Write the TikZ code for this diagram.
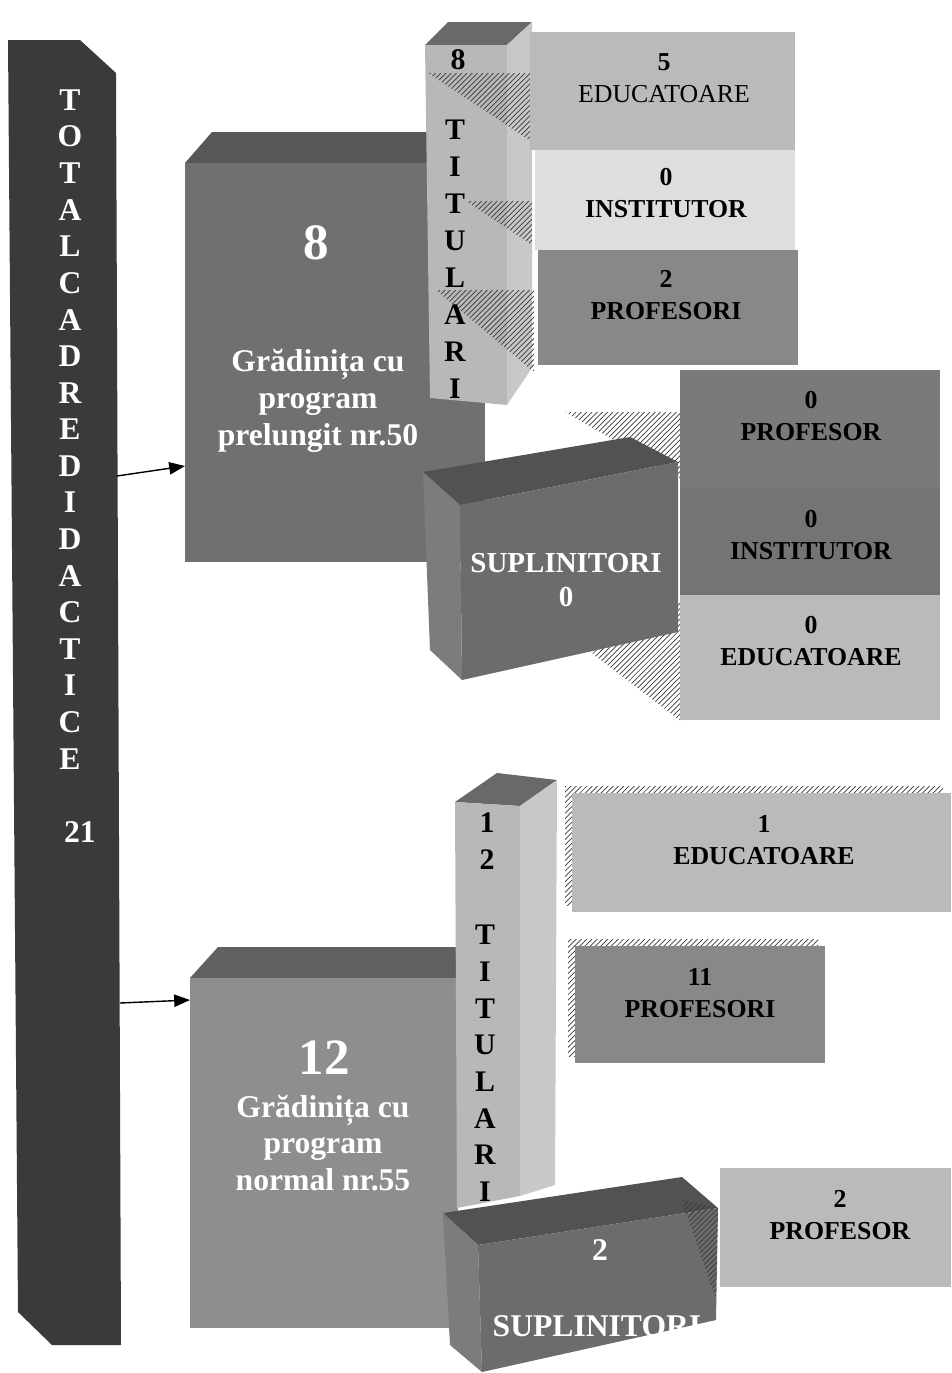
\documentclass[tikz,border=0pt]{standalone}
\usepackage{fontspec}
\setmainfont{Liberation Serif}
\usetikzlibrary{patterns,arrows.meta}

\definecolor{barc}{RGB}{58,58,60}
\definecolor{gfront}{RGB}{112,112,112}
\definecolor{gtop}{RGB}{88,88,88}
\definecolor{gfronttwo}{RGB}{142,142,142}
\definecolor{gtoptwo}{RGB}{96,96,96}
\definecolor{colfront}{RGB}{184,184,184}
\definecolor{colside}{RGB}{200,200,200}
\definecolor{coltop}{RGB}{105,105,105}
\definecolor{lightbox}{RGB}{186,186,186}
\definecolor{paleboxc}{RGB}{222,222,222}
\definecolor{darkbox}{RGB}{136,136,136}
\definecolor{midbox}{RGB}{122,122,122}
\definecolor{supfront}{RGB}{108,108,108}
\definecolor{suptop}{RGB}{82,82,82}
\definecolor{supside}{RGB}{124,124,124}

\tikzset{
  wletter/.style={text=white, font=\fontsize{18}{20}\selectfont\bfseries},
  bletter/.style={text=black, font=\fontsize{17}{19}\selectfont\bfseries},
  lbl/.style={align=center, text=black, font=\fontsize{14.7}{18.5}\selectfont\bfseries},
  wlbl/.style={align=center, text=white, font=\fontsize{18}{21}\selectfont\bfseries},
  wbig/.style={text=white, font=\fontsize{29}{32}\selectfont\bfseries},
  hatch/.style={pattern=north east lines, pattern color=gray!45!black},
  arr/.style={-{Triangle[length=9pt,width=7pt]}, line width=0.8pt},
}

\begin{document}
\begin{tikzpicture}[x=0.02cm,y=-0.02cm]
  \useasboundingbox (0,0) rectangle (951,1373);

  % total bar
  \fill[barc] (8,40) -- (80,40) -- (116,73) -- (121,1345)
    -- (52,1345) -- (18,1312) -- cycle;
  \foreach \ch [count=\i from 0] in {T,O,T,A,L,C,A,D,R,E,D,I,D,A,C,T,I,C,E}
    \node[wletter] (tot\i) at (70,{100+36.6*\i}) {\ch};
  \node[wletter] (tot21) at (80,832) {21};

  % gradinita 50
  \fill[gtop] (185,163) -- (212,132) -- (485,132) -- (485,163) -- cycle;
  \fill[gfront] (185,163) rectangle (485,562);
  \node[wbig] (g50n) at (316,243) {8};
  \node[wlbl] (g50t) at (318,401) {Grădinița cu\\program\\prelungit nr.50};

  % titulari 1
  \fill[coltop] (425,45) -- (448,22) -- (532,22) -- (507,45) -- cycle;
  \fill[colfront] (425,45) -- (507,45) -- (507,405) -- (430,398) -- cycle;
  \fill[colside] (507,45) -- (532,22) -- (532,368) -- (507,405) -- cycle;
  \fill[hatch] (428,73) -- (532,73) -- (532,142) -- cycle;
  \fill[hatch] (466,201) -- (532,201) -- (532,245) -- cycle;
  \fill[hatch] (436,290) -- (534,290) -- (534,372) -- cycle;
  \node[bletter] (tit8) at (458,60) {8};
  \foreach \ch [count=\i from 0] in {T,I,T,U,L,A,R,I}
    \node[bletter] (ta\i) at (455,{130+36.9*\i}) {\ch};

  \fill[lightbox] (530,32) rectangle (795,150);
  \fill[paleboxc] (535,150) rectangle (795,250);
  \fill[darkbox] (538,250) rectangle (798,365);
  \node[lbl] (edu1) at (664,78) {5\\\mdseries EDUCATOARE};
  \node[lbl] (ins1) at (666,193) {0\\INSTITUTOR};
  \node[lbl] (pro1) at (666,295) {2\\PROFESORI};

  % suplinitori 1
  \fill[hatch] (565,412) -- (680,412) -- (680,478) -- cycle;
  \fill[hatch] (585,648) -- (682,600) -- (682,722) -- cycle;
  \fill[suptop] (423,472) -- (630,437) -- (678,462) -- (460,505) -- cycle;
  \fill[supside] (423,472) -- (460,505) -- (462,680) -- (430,650) -- cycle;
  \fill[supfront] (460,505) -- (678,462) -- (678,632) -- (462,680) -- cycle;
  \node[wlbl, font=\fontsize{16.5}{19}\selectfont\bfseries] (sup1) at (566,580)
    {SUPLINITORI\\0};

  \fill[midbox] (680,370) rectangle (940,488);
  \fill[midbox!95!black] (680,488) rectangle (940,595);
  \fill[lightbox] (680,595) rectangle (940,720);
  \node[lbl] (pro2) at (811,416) {0\\PROFESOR};
  \node[lbl] (ins2) at (811,535) {0\\INSTITUTOR};
  \node[lbl] (edu2) at (811,641) {0\\EDUCATOARE};

  % gradinita 55
  \fill[gtoptwo] (190,978) -- (218,947) -- (458,947) -- (458,978) -- cycle;
  \fill[gfronttwo] (190,978) rectangle (458,1328);
  \node[wbig] (g55n) at (324,1058) {12};
  \node[wlbl] (g55t) at (323,1143) {Grădinița cu\\program\\normal nr.55};

  % titulari 2
  \fill[coltop] (455,802) -- (497,773) -- (557,780) -- (520,806) -- cycle;
  \fill[colfront] (455,802) -- (520,806) -- (520,1196) -- (457,1208) -- cycle;
  \fill[colside] (520,806) -- (557,780) -- (555,1185) -- (520,1196) -- cycle;
  \node[bletter] (tb1) at (487,823) {1};
  \node[bletter] (tb2) at (487,860) {2};
  \foreach \ch [count=\i from 0] in {T,I,T,U,L,A,R,I}
    \node[bletter] (tb\ch\i) at (485,{935+36.7*\i}) {\ch};

  \fill[hatch] (565,786) rectangle (943,905);
  \fill[lightbox] (572,793) rectangle (951,912);
  \node[lbl] (edu3) at (764,840) {1\\EDUCATOARE};
  \fill[hatch] (568,939) rectangle (818,1056);
  \fill[darkbox] (575,946) rectangle (825,1063);
  \node[lbl] (pro3) at (700,993) {11\\PROFESORI};

  % suplinitori 2
  \fill[suptop] (443,1213) -- (682,1177) -- (718,1208) -- (478,1245) -- cycle;
  \fill[supside] (443,1213) -- (478,1245) -- (482,1372) -- (450,1345) -- cycle;
  \fill[supfront] (478,1245) -- (718,1208) -- (716,1320) -- (482,1372) -- cycle;
  \fill[hatch] (682,1200) -- (718,1208) -- (716,1300) -- cycle;
  \node[wlbl] (sup2n) at (600,1250) {2};
  \node[wlbl] (sup2t) at (597,1326) {SUPLINITORI};

  \fill[lightbox] (720,1168) rectangle (951,1287);
  \node[lbl] (pro4) at (840,1215) {2\\PROFESOR};

  % arrows
  \coordinate (bar1) at (117,476);
  \coordinate (gin1) at (185,466);
  \coordinate (bar2) at (120,1003);
  \coordinate (gin2) at (190,1000);
  \draw[arr] (bar1) -- (gin1);
  \draw[arr] (bar2) -- (gin2);
\end{tikzpicture}
\end{document}
